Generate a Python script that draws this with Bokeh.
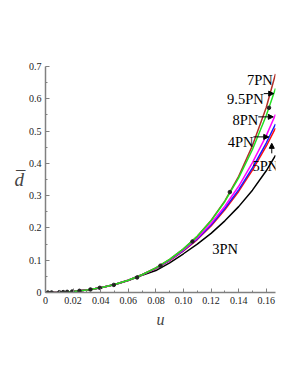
from bokeh.plotting import figure
from bokeh.embed import file_html
from bokeh.resources import INLINE
from bokeh.models import Range1d, FixedTicker, Label, Arrow, NormalHead

# ---- data ----
u_grid = [0.0, 0.01, 0.02, 0.03, 0.04, 0.05, 0.06, 0.07, 0.08, 0.09,
          0.10, 0.11, 0.12, 0.13, 0.14, 0.15, 0.16, 0.1667]

d_3pn = [0.0, 0.0008, 0.0032, 0.0076, 0.0145, 0.0240, 0.0372, 0.0530, 0.0680, 0.0920,
         0.120, 0.150, 0.183, 0.222, 0.266, 0.317, 0.377, 0.425]
d_4pn = [0.0, 0.0008, 0.0032, 0.0077, 0.0147, 0.0245, 0.0378, 0.0549, 0.0747, 0.0999,
         0.130, 0.166, 0.209, 0.260, 0.318, 0.386, 0.463, 0.522]
d_5pn = [0.0, 0.0008, 0.0032, 0.0077, 0.0147, 0.0245, 0.0378, 0.0549, 0.0742, 0.0989,
         0.129, 0.164, 0.206, 0.256, 0.313, 0.379, 0.453, 0.509]
d_7pn = [0.0, 0.0008, 0.0032, 0.0077, 0.0147, 0.0245, 0.0378, 0.0549, 0.0762, 0.1029,
         0.135, 0.174, 0.223, 0.284, 0.360, 0.455, 0.573, 0.677]
d_8pn = [0.0, 0.0008, 0.0032, 0.0077, 0.0147, 0.0245, 0.0378, 0.0549, 0.0752, 0.1009,
         0.132, 0.169, 0.214, 0.267, 0.329, 0.402, 0.486, 0.551]
d_95pn = [0.0, 0.0008, 0.0032, 0.0077, 0.0147, 0.0245, 0.0378, 0.0549, 0.0762, 0.1029,
          0.135, 0.174, 0.222, 0.282, 0.355, 0.443, 0.548, 0.632]

u_num = [0.0017, 0.0044, 0.010, 0.0128, 0.0157, 0.0193, 0.0246, 0.0326, 0.0393, 0.0495,
         0.0664, 0.0833, 0.1065, 0.1336, 0.162]
d_num = [0.0, 0.0001, 0.0008, 0.0013, 0.0020, 0.0030, 0.0052, 0.0093, 0.0145, 0.0235,
         0.0466, 0.083, 0.158, 0.311, 0.572]

x_ticks = [0, 0.02, 0.04, 0.06, 0.08, 0.10, 0.12, 0.14, 0.16]
x_tick_labels = ["0", "0.02", "0.04", "0.06", "0.08", "0.10", "0.12", "0.14", "0.16"]
y_ticks = [0, 0.1, 0.2, 0.3, 0.4, 0.5, 0.6, 0.7]
y_tick_labels = ["0", "0.1", "0.2", "0.3", "0.4", "0.5", "0.6", "0.7"]

FONT = "Liberation Serif"

p = figure(width=290, height=377, output_backend="svg", toolbar_location=None,
           x_range=Range1d(0, 0.1667), y_range=Range1d(0, 0.7),
           min_border_left=45, min_border_right=15, min_border_top=66, min_border_bottom=85)
p.outline_line_color = None
p.grid.grid_line_color = None
p.background_fill_color = "white"

for ax in (p.xaxis[0], p.yaxis[0]):
    ax.axis_line_color = "#808080"
    ax.axis_line_width = 1.5
    ax.major_tick_line_color = "#808080"
    ax.minor_tick_line_color = "#808080"
    ax.major_tick_in = 4
    ax.major_tick_out = 0
    ax.minor_tick_in = 2
    ax.minor_tick_out = 0
    ax.major_label_text_font = FONT
    ax.major_label_text_font_size = "10px"
    ax.major_label_text_color = "#222222"
    ax.major_label_standoff = 4

p.xaxis.ticker = FixedTicker(ticks=x_ticks, minor_ticks=[0.01, 0.03, 0.05, 0.07, 0.09, 0.11, 0.13, 0.15])
p.xaxis.major_label_overrides = {t: s for t, s in zip(x_ticks, x_tick_labels)}
p.yaxis.ticker = FixedTicker(ticks=y_ticks, minor_ticks=[0.05, 0.15, 0.25, 0.35, 0.45, 0.55, 0.65])
p.yaxis.major_label_overrides = {t: s for t, s in zip(y_ticks, y_tick_labels)}

p.xaxis.axis_label = "u"
p.xaxis.axis_label_text_font = FONT
p.xaxis.axis_label_text_font_style = "italic"
p.xaxis.axis_label_text_font_size = "16px"
p.xaxis.axis_label_standoff = 4

# y-axis label, horizontal
ylab_ok = True
try:
    p.yaxis.axis_label = "d\u0305"
    p.yaxis.axis_label_text_font = FONT
    p.yaxis.axis_label_text_font_style = "italic"
    p.yaxis.axis_label_text_font_size = "19px"
    p.yaxis.axis_label_standoff = 2
    p.yaxis.axis_label_orientation = "horizontal"
except Exception:
    ylab_ok = False
    p.yaxis.axis_label = None

lw = 1.5
p.line(u_grid, d_3pn, color="black", line_width=lw)
p.line(u_grid, d_5pn, color="#ff1010", line_width=lw)
p.line(u_grid, d_4pn, color="#1a1aff", line_width=lw)
p.line(u_grid, d_8pn, color="#ff00ff", line_width=lw)
p.line(u_grid, d_7pn, color="#b03028", line_width=lw)
p.line(u_grid, d_95pn, color="#22e022", line_width=lw)
p.scatter(u_num, d_num, size=3.5, color="#222222")

if not ylab_ok:
    p.add_layout(Label(x=-28, y=105, x_units="screen", y_units="screen", text="d\u0305",
                       text_font=FONT, text_font_style="italic",
                       text_font_size="19px", text_align="left", text_baseline="alphabetic"))

def lab(x, y, t, align="right"):
    p.add_layout(Label(x=x, y=y, text=t, text_font=FONT, text_font_size="14.5px",
                       text_align=align, text_baseline="alphabetic", text_color="black"))

def arr(x0, y0, x1, y1):
    p.add_layout(Arrow(end=NormalHead(size=5, fill_color="black", line_color="black"),
                       x_start=x0, y_start=y0, x_end=x1, y_end=y1,
                       line_color="black", line_width=1))

lab(0.1647, 0.657, "7PN")
lab(0.1582, 0.600, "9.5PN")
arr(0.1582, 0.616, 0.1654, 0.616)
lab(0.1542, 0.533, "8PN")
arr(0.1542, 0.544, 0.1651, 0.544)
lab(0.1507, 0.466, "4PN")
arr(0.1507, 0.482, 0.1618, 0.482)
lab(0.150, 0.393, "5PN", align="left")
arr(0.164, 0.431, 0.164, 0.462)
lab(0.1209, 0.136, "3PN", align="left")

open("out.html", "w").write(file_html(p, INLINE))
